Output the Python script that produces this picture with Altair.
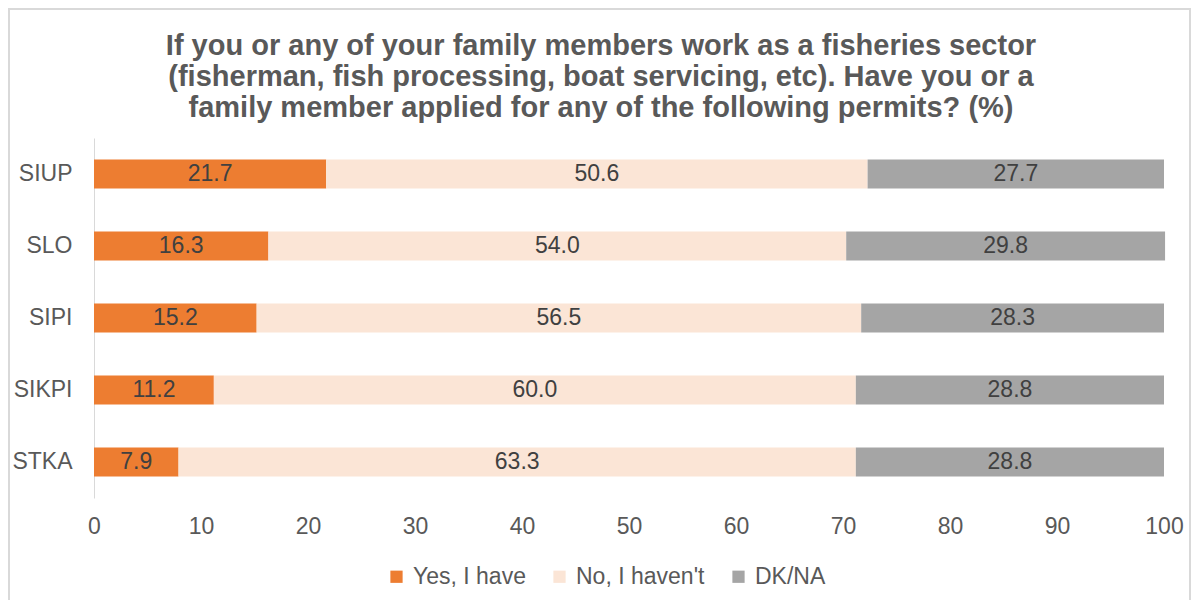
import altair as alt
import pandas as pd

categories = ["SIUP", "SLO", "SIPI", "SIKPI", "STKA"]
series = ["Yes, I have", "No, I haven't", "DK/NA"]
yes_vals = [21.7, 16.3, 15.2, 11.2, 7.9]
no_vals = [50.6, 54.0, 56.5, 60.0, 63.3]
dk_vals = [27.7, 29.8, 28.3, 28.8, 28.8]
colors = ["#ED7D31", "#FBE5D6", "#A5A5A5"]

FS = 23
FONT = "Liberation Sans"

rows = []
for i, c in enumerate(categories):
    for j, (s, vals) in enumerate(zip(series, [yes_vals, no_vals, dk_vals])):
        rows.append({"cat": c, "series": s, "order": j, "value": vals[i]})
df = pd.DataFrame(rows)

base = alt.Chart(df).transform_stack(
    stack="value", groupby=["cat"], as_=["x0", "x1"], sort=[alt.SortField("order")]
).transform_calculate(mid="(datum.x0 + datum.x1) / 2")

y_enc = alt.Y("cat:N", sort=categories, title=None,
              scale=alt.Scale(paddingInner=0.6, paddingOuter=0.3),
              axis=alt.Axis(labelFontSize=FS, labelColor="#595959", labelFont=FONT,
                            ticks=False, domainColor="#D9D9D9", labelPadding=22, grid=False))

bars = base.mark_bar().encode(
    x=alt.X("x0:Q", title=None, scale=alt.Scale(domain=[0, 100], nice=False),
            axis=alt.Axis(values=list(range(0, 101, 10)), labelFontSize=FS, labelColor="#595959",
                          labelFont=FONT, ticks=False, domain=False, grid=False,
                          labelPadding=17, labelFlush=False, labelOverlap=False)),
    x2="x1:Q",
    y=y_enc,
    color=alt.Color("series:N", scale=alt.Scale(domain=series, range=colors),
                    legend=alt.Legend(title=None, orient="none", direction="horizontal",
                                      legendX=291, legendY=427, symbolType="square",
                                      symbolSize=150, symbolStrokeWidth=0, labelFontSize=FS,
                                      labelColor="#595959", labelFont=FONT,
                                      columnPadding=22, labelOffset=5)),
)

labels = base.mark_text(fontSize=FS, color="#404040", font=FONT).encode(
    x="mid:Q",
    y=alt.Y("cat:N", sort=categories),
    text=alt.Text("value:Q", format=".1f"),
)

border = alt.Chart(pd.DataFrame({"a": [0]})).mark_rect(
    fill=None, stroke="#D9D9D9", strokeWidth=2
).encode(x=alt.value(-85), x2=alt.value(1096), y=alt.value(-129), y2=alt.value(480))

chart = alt.layer(border, bars, labels).properties(
    width=1070, height=360,
    title=alt.Title(
        ["If you or any of your family members work as a fisheries sector",
         "(fisherman, fish processing, boat servicing, etc). Have you or a",
         "family member applied for any of the following permits? (%)"],
        fontSize=29, font=FONT, fontWeight="bold", color="#595959",
        lineHeight=31, anchor="middle", offset=-115, dx=-28),
    autosize=alt.AutoSizeParams(type="none"),
    padding={"left": 86, "top": 130, "right": 27, "bottom": 102},
).configure_view(stroke=None)

chart.save("out.html", embed_options={"renderer": "svg", "actions": False})
